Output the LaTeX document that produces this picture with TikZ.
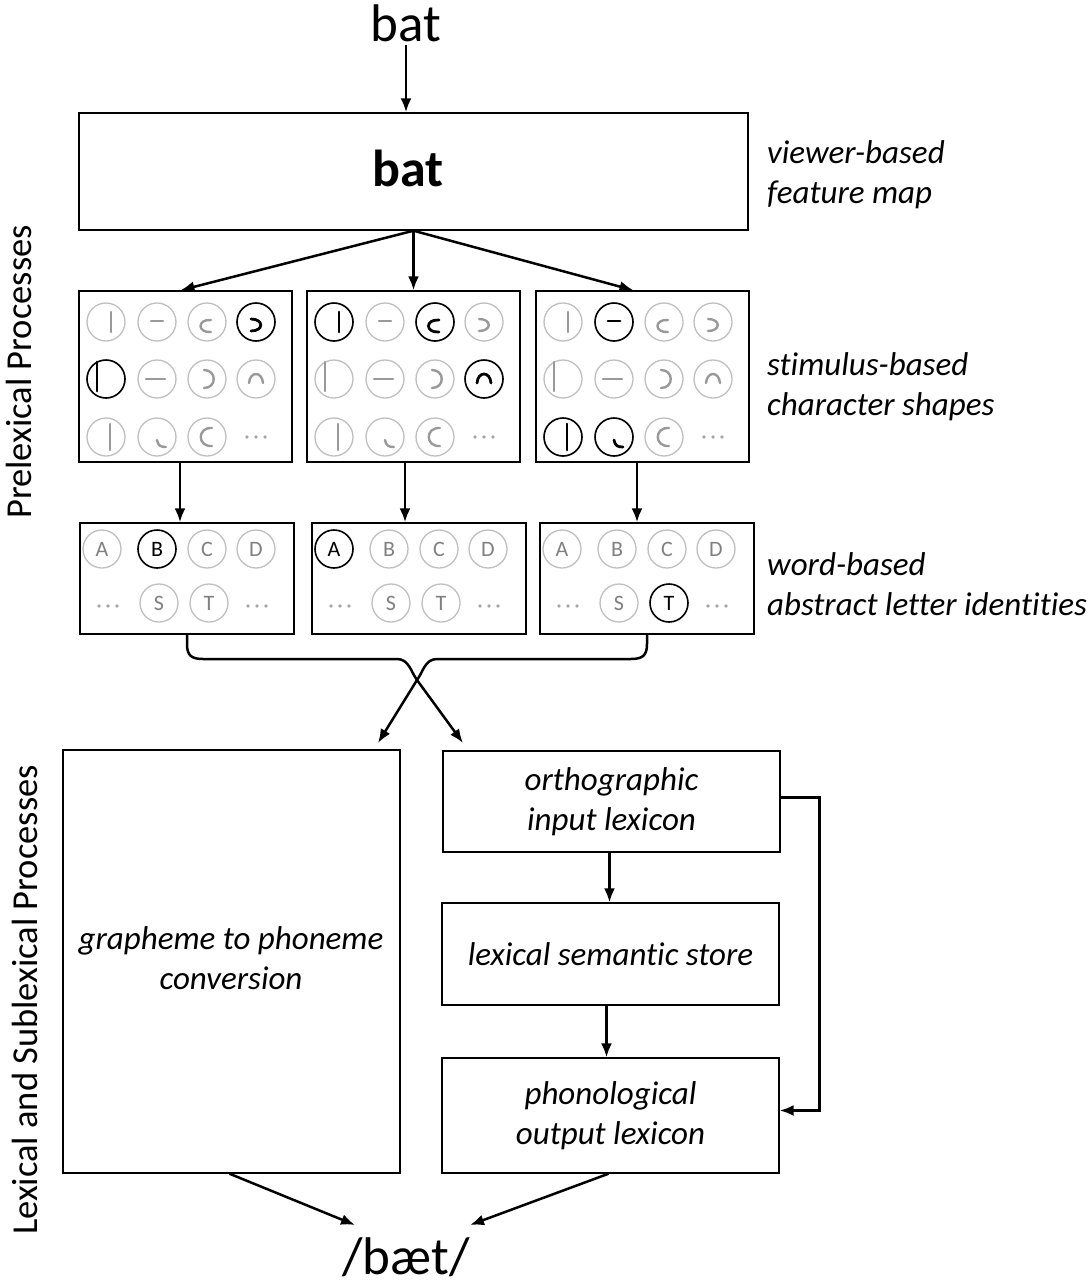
\documentclass[tikz,border=0pt]{standalone}
\usepackage{fontspec}
\setmainfont{Carlito}[Ligatures={NoCommon}]
\usetikzlibrary{arrows.meta,calc}
% glyph fragments, drawn relative to a circle centre (y grows downwards)
\expandafter\def\csname glyph11\endcsname#1{\draw[#1] (5,-10) -- (5,10);}
\expandafter\def\csname glyph12\endcsname#1{\draw[#1] (-9,-17) -- (-9,12);}
\expandafter\def\csname glyph13\endcsname#1{\draw[#1] (4,-13) -- (4,13);}
\expandafter\def\csname glyph21\endcsname#1{\draw[#1] (-6,-1) -- (6,-1);}
\expandafter\def\csname glyph22\endcsname#1{\draw[#1] (-11,0) -- (8,0);}
\expandafter\def\csname glyph23\endcsname#1{\draw[#1] (0,3) .. controls (1,9) and (4,10) .. (9,10);}
\expandafter\def\csname glyph31\endcsname#1{\draw[#1] (4,-2) .. controls (-10,-3) and (-10,11) .. (4,10);}
\expandafter\def\csname glyph32\endcsname#1{\draw[#1] (-3,-9) .. controls (10,-9) and (10,9) .. (-3,9);}
\expandafter\def\csname glyph33\endcsname#1{\draw[#1] (5,-9) .. controls (-10,-10) and (-10,10) .. (5,9);}
\expandafter\def\csname glyph41\endcsname#1{\draw[#1] (-5,-3) .. controls (8,-3) and (8,9) .. (-5,9);}
\expandafter\def\csname glyph42\endcsname#1{\draw[#1] (-7,4) .. controls (-6,-8) and (6,-8) .. (7,4);}
\expandafter\def\csname glyph43\endcsname#1{\fill[black!35] (-9,0) circle[radius=1.8pt] (0,0) circle[radius=1.8pt] (9,0) circle[radius=1.8pt];}
% one cell: #1 x, #2 y, #3 glyph id, #4 circle style, #5 glyph style
\newcommand\shapecell[5]{%
  \begin{scope}[shift={(#1,#2)}]
    \ifnum#3=43\relax\else\draw[#4] (0,0) circle[radius=19pt];\fi
    \csname glyph#3\endcsname{#5}%
  \end{scope}}
\newcommand\threedots[2]{\fill[black!35] (#1-9,#2) circle[radius=1.8pt] (#1,#2) circle[radius=1.8pt] (#1+9,#2) circle[radius=1.8pt];}
\begin{document}
\begin{tikzpicture}[x=1pt,y=-1pt,
  box/.style={draw, line width=1.4pt, inner sep=0pt},
  arr/.style={line width=2.5pt, -{Latex[length=14pt,width=11pt]}},
  lab/.style={font=\fontsize{33}{40}\selectfont\itshape, align=left, anchor=west, inner sep=0pt},
  btxt/.style={font=\fontsize{33}{40}\selectfont\itshape, align=center, inner sep=0pt},
  side/.style={font=\fontsize{36.5}{40}\selectfont, rotate=90, inner sep=0pt},
  gc/.style={draw=black!25, line width=1.3pt},
  bc/.style={draw=black, line width=1.6pt},
  gg/.style={draw=black!40, line width=2.4pt, line cap=round},
  bg/.style={draw=black, line width=2.7pt, line cap=round},
  lc/.style={circle, minimum size=38pt, inner sep=0pt, draw=black!25, line width=1.3pt, text=black!50, font=\fontsize{22}{22}\selectfont},
  lcb/.style={lc, draw=black, line width=1.6pt, text=black},
]
\useasboundingbox (0,0) rectangle (1091,1288);

% ---- top
\node[font=\fontsize{53}{53}\selectfont, inner sep=3pt] (bat) at (406,23) {bat};
\node[box, minimum width=669pt, minimum height=117pt] (fmap) at (413.5,171.5) {};
\node[font=\fontsize{52}{52}\selectfont\bfseries, inner sep=0pt] (fmaptxt) at (408,168) {bat};
\draw[arr] (bat.south) -- (bat.south |- fmap.north);
\node[lab] (labF) at (767,175) {viewer-based\\feature map};

% ---- character shape boxes
\node[box, minimum width=213pt, minimum height=171pt] (S1) at (185.5,376.5) {};
\node[box, minimum width=213pt, minimum height=171pt] (S2) at (413.5,376.5) {};
\node[box, minimum width=213pt, minimum height=171pt] (S3) at (642.5,376.5) {};
\node[lab] (labS) at (767,387) {stimulus-based\\character shapes};

\foreach \bx in {79,307,536}{
  \foreach \c/\dx in {1/27,2/78,3/128,4/177}{
    \foreach \r/\dy in {1/31,2/88,3/146}{
      \shapecell{\bx+\dx}{291+\dy}{\c\r}{gc}{gg}
    }
  }
}
% highlighted features: b
\shapecell{79+177}{291+31}{41}{bc}{bg}
\shapecell{79+27}{291+88}{12}{bc}{bg}
% a
\shapecell{307+27}{291+31}{11}{bc}{bg}
\shapecell{307+128}{291+31}{31}{bc}{bg}
\shapecell{307+177}{291+88}{42}{bc}{bg}
% t
\shapecell{536+78}{291+31}{21}{bc}{bg}
\shapecell{536+27}{291+146}{13}{bc}{bg}
\shapecell{536+78}{291+146}{23}{bc}{bg}

\draw[arr] (fmap.south) -- ([xshift=-5pt]S1.north);
\draw[arr] (fmap.south) -- (S2.north);
\draw[arr] (fmap.south) -- ([xshift=-9pt]S3.north);

% ---- letter boxes
\node[box, minimum width=214pt, minimum height=111pt] (L1) at (187,578.5) {};
\node[box, minimum width=214pt, minimum height=111pt] (L2) at (419,578.5) {};
\node[box, minimum width=214pt, minimum height=111pt] (L3) at (647,578.5) {};
\node[lab] (labL) at (767,584) {word-based\\abstract letter identities};

\foreach \b/\bx/\hA/\hB/\hT in {1/80/lc/lcb/lc, 2/312/lcb/lc/lc, 3/540/lc/lc/lcb}{
  \node[\hA] (l\b A) at (\bx+22,549) {A};
  \node[\hB] (l\b B) at (\bx+77,549) {B};
  \node[lc]  (l\b C) at (\bx+127,549) {C};
  \node[lc]  (l\b D) at (\bx+176,549) {D};
  \node[lc]  (l\b S) at (\bx+79,603) {S};
  \node[\hT] (l\b T) at (\bx+129,603) {T};
  \threedots{\bx+28}{606}
  \threedots{\bx+177}{606}
}

\draw[arr] ([xshift=-5.5pt]S1.south) -- ([xshift=-5.5pt]S1.south |- L1.north);
\draw[arr] ([xshift=-8.5pt]S2.south) -- ([xshift=-8.5pt]S2.south |- L2.north);
\draw[arr] ([xshift=-5.5pt]S3.south) -- ([xshift=-5.5pt]S3.south |- L3.north);

% ---- lower boxes
\node[box, minimum width=337pt, minimum height=423pt] (G) at (231.5,961.5) {};
\node[btxt] (Gt) at (231,958) {grapheme to phoneme\\conversion};
\node[box, minimum width=337pt, minimum height=101pt, btxt] (O) at (611.5,801.5) {orthographic\\input lexicon};
\node[box, minimum width=337pt, minimum height=102pt, btxt] (M) at (610.5,954) {lexical semantic store};
\node[box, minimum width=337pt, minimum height=115pt, btxt] (P) at (610.5,1115.5) {phonological\\output lexicon};

\coordinate (toO) at (463,743);
\coordinate (toG) at (378,743);
\draw[arr] (L1.south) -- (187,644) .. controls (187,655) and (191,659) .. (203,659) -- (397,659) .. controls (409,659) and (411,672) .. (417,680) -- (toO);
\draw[arr] (L3.south) -- (647,644) .. controls (647,655) and (643,659) .. (631,659) -- (437,659) .. controls (425,659) and (423,672) .. (417,680) -- (toG);

\draw[arr] ([xshift=-2pt]O.south) -- ([xshift=-2pt]O.south |- M.north);
\draw[arr] ([xshift=-4pt]M.south) -- ([xshift=-4pt]M.south |- P.north);
\draw[arr] ([yshift=4pt]O.east) -- ++(39,0) |- ([yshift=5pt]P.east);

% ---- output
\node[font=\fontsize{53}{53}\selectfont, inner sep=0pt] (out) at (406,1257) {/bæt/};
\coordinate (eL) at (355,1225);
\coordinate (eR) at (470,1225);
\draw[arr] ([xshift=-2pt]G.south) -- (eL);
\draw[arr] ([xshift=-2pt]P.south) -- (eR);

% ---- side labels
\node[side] (pre) at (19,372) {Prelexical Processes};
\node[side] (lex) at (25,1000) {Lexical and Sublexical Processes};
\end{tikzpicture}
\end{document}
